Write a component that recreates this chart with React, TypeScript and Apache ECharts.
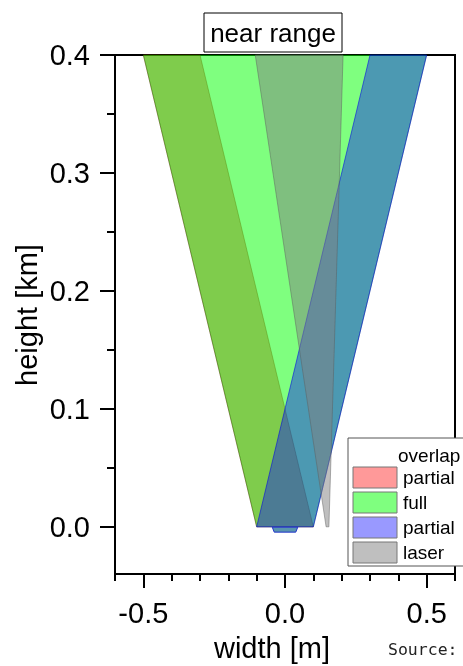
import React, { useEffect, useRef } from "react";
import * as echarts from "echarts";

// Cone outlines [width m, height km]
const redCone = [[-0.1, 0], [0.1, 0], [-0.3, 0.4], [-0.5, 0.4]];
const greenCone = [[-0.1, 0], [0.1, 0], [0.5, 0.4], [-0.5, 0.4]];
const blueCone = [[-0.1, 0], [0.1, 0], [0.5, 0.4], [0.3, 0.4]];
const laserBeam = [[0.145, 0], [0.155, 0], [0.205, 0.4], [-0.105, 0.4]];
const mirror = [[-0.045, -0.0003], [0.045, -0.0003], [0.038, -0.0045], [-0.038, -0.0045]];

const xMajorTicks = [-0.5, 0, 0.5];
const yMajorTicks = [0, 0.1, 0.2, 0.3, 0.4];
const yMinorTicks = [0.05, 0.15, 0.25, 0.35];
const legendLabels = ["partial", "full", "partial", "laser"];
const legendTitle = "overlap";
const chartTitle = "near range";
const xName = "width [m]";
const yName = "height [km]";

const FONT = "'Liberation Sans', Arial, sans-serif";
const legendFills = ["rgba(255,0,0,0.4)", "rgba(0,255,0,0.5)", "rgba(0,0,255,0.4)", "rgba(128,128,128,0.5)"];

function poly(name: string, pts: number[][], fill: string, stroke: string) {
  return {
    type: "custom",
    name,
    xAxisIndex: 0,
    yAxisIndex: 0,
    silent: true,
    data: pts,
    renderItem: (params: any, api: any) => {
      if (params.dataIndex !== 0) return null;
      return {
        type: "polygon",
        shape: { points: pts.map((p) => api.coord(p)) },
        style: { fill, stroke, lineWidth: 1 },
      };
    },
  };
}

export default function App() {
  const ref = useRef<HTMLDivElement>(null);
  useEffect(() => {
    if (!ref.current) return;
    const chart = echarts.init(ref.current, null, { renderer: "svg" });
    const tickLbl = { fontFamily: FONT, fontSize: 29, color: "#000" };
    const legendItems: any[] = [];
    legendLabels.forEach((lab, i) => {
      const y = 467 + i * 25;
      legendItems.push({
        type: "rect",
        shape: { x: 353, y, width: 44, height: 21 },
        style: { fill: legendFills[i], stroke: "#777", lineWidth: 1 },
      });
      legendItems.push({
        type: "text",
        x: 403,
        y: y + 10.5,
        style: { text: lab, font: `19px ${FONT}`, fill: "#000", verticalAlign: "middle", align: "left" },
      });
    });
    chart.setOption({
      animation: false,
      grid: { left: 115, right: 8, top: 55, bottom: 92, show: true, borderColor: "#000", borderWidth: 2, backgroundColor: "transparent" },
      xAxis: [
        {
          type: "value", position: "bottom", min: -0.6, max: 0.6,
          axisLine: { show: true, onZero: false, lineStyle: { color: "#000", width: 2 } },
          axisTick: { show: true, length: 14, lineStyle: { color: "#000", width: 2 }, customValues: xMajorTicks },
          axisLabel: { ...tickLbl, margin: 24, customValues: xMajorTicks, formatter: (v: number) => v.toFixed(1) },
          splitLine: { show: false },
        },
        {
          type: "value", position: "bottom", min: -0.6, max: 0.6, interval: 0.1,
          axisLine: { show: false, onZero: false },
          axisTick: { show: true, length: 7, lineStyle: { color: "#000", width: 2 } },
          axisLabel: { show: false },
          splitLine: { show: false },
        },
      ],
      yAxis: [
        {
          type: "value", position: "left", min: -0.04, max: 0.4,
          axisLine: { show: true, onZero: false, lineStyle: { color: "#000", width: 2 } },
          axisTick: { show: true, length: 15, lineStyle: { color: "#000", width: 2 }, customValues: yMajorTicks },
          axisLabel: { ...tickLbl, margin: 25, customValues: yMajorTicks, formatter: (v: number) => v.toFixed(1) },
          splitLine: { show: false },
        },
        {
          type: "value", position: "left", min: -0.04, max: 0.4,
          axisLine: { show: false, onZero: false },
          axisTick: { show: true, length: 8, lineStyle: { color: "#000", width: 2 }, customValues: yMinorTicks },
          axisLabel: { show: false },
          splitLine: { show: false },
        },
      ],
      series: [
        poly("partial (red)", redCone, "rgba(255,0,0,0.4)", "rgba(170,0,0,0.4)"),
        poly("full", greenCone, "rgba(0,255,0,0.5)", "rgba(0,120,0,0.35)"),
        poly("partial (blue)", blueCone, "rgba(0,0,255,0.4)", "rgba(0,0,230,0.55)"),
        poly("laser", laserBeam, "rgba(128,128,128,0.5)", "rgba(90,90,90,0.45)"),
        poly("mirror", mirror, "rgba(60,130,160,0.85)", "#2233cc"),
      ],
      graphic: [
        {
          type: "group", z: 100,
          children: [
            { type: "rect", shape: { x: 204, y: 13, width: 138, height: 39 }, style: { fill: "#fff", stroke: "#000", lineWidth: 1 } },
            { type: "text", x: 273, y: 33, style: { text: chartTitle, font: `26px ${FONT}`, fill: "#000", align: "center", verticalAlign: "middle" } },
            { type: "text", x: 272, y: 648, style: { text: xName, font: `29px ${FONT}`, fill: "#000", align: "center", verticalAlign: "middle" } },
            { type: "text", x: 27, y: 315, rotation: Math.PI / 2, style: { text: yName, font: `29px ${FONT}`, fill: "#000", align: "center", verticalAlign: "middle" } },
            { type: "text", x: 388, y: 649, style: { text: "Source:", font: `16.5px 'DejaVu Sans Mono', monospace`, fill: "#222", align: "left", verticalAlign: "middle" } },
            { type: "rect", shape: { x: 348, y: 438, width: 130, height: 128 }, style: { fill: "#fff", stroke: "#555", lineWidth: 1 } },
            { type: "text", x: 398, y: 455, style: { text: legendTitle, font: `19px ${FONT}`, fill: "#000", align: "left", verticalAlign: "middle" } },
            ...legendItems,
          ],
        },
      ],
    });
    return () => chart.dispose();
  }, []);
  return <div ref={ref} style={{ position: "fixed", left: 0, top: 0, width: 463, height: 666 }} />;
}
